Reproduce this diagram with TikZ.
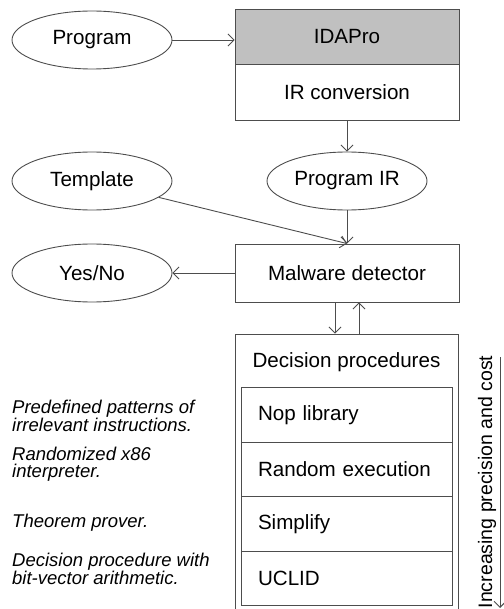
\documentclass[tikz,border=0pt]{standalone}
\usepackage{fontspec}
\setmainfont{Liberation Sans}
\usetikzlibrary{shapes.geometric, arrows.meta, positioning}
\usepackage{xcolor}
\definecolor{lineGray}{HTML}{4D4D4D}
\definecolor{headGray}{HTML}{C0C0C0}
\tikzset{
    BoxText/.style={font=\fontsize{20.6}{24}\selectfont},
    NoteText/.style={font=\fontsize{18.5}{17.5}\selectfont\itshape, align=left, anchor=west, inner sep=0pt},
    StageBox/.style={draw=lineGray, line width=0.9pt, rectangle, minimum width=224pt, minimum height=56pt, BoxText},
    DataEllipse/.style={draw=lineGray, line width=0.9pt, ellipse, minimum width=160pt, minimum height=58pt, inner sep=0pt, BoxText},
    ProcRow/.style={draw=lineGray, line width=0.9pt, rectangle, minimum width=211pt, minimum height=54.5pt, text width=177pt, inner xsep=17pt, align=left, BoxText},
    FlowArrow/.style={-{Straight Barb[length=6pt, width=12pt]}, draw=lineGray, line width=0.9pt}
}

\begin{document}
\begin{tikzpicture}[x=1pt, y=-1pt]
    \useasboundingbox (0,0) rectangle (503,609);

    % inputs and front end
    \node[DataEllipse] (prog) at (92,40) {Program};
    \node[StageBox, fill=headGray, minimum height=55pt] (ida) at (347,36.5) {IDAPro};
    \node[StageBox] (irc) at (347,92) {IR conversion};
    \node[DataEllipse] (progir) at (347,181) {Program IR};
    \node[DataEllipse] (tmpl) at (92,181) {Template};
    \node[StageBox, minimum height=58pt] (mal) at (347,273) {Malware detector};
    \node[DataEllipse] (yesno) at (92,273) {Yes/No};

    \draw[FlowArrow] (prog.east) -- (prog.east -| ida.west);
    \draw[FlowArrow] (irc.south) -- (progir.north);
    \draw[FlowArrow] (tmpl) -- (mal.north);
    \draw[FlowArrow] (progir.south) -- (mal.north);
    \draw[FlowArrow] (mal.west) -- (yesno.east);

    % decision procedures
    \node[draw=lineGray, line width=0.9pt, minimum width=223pt, minimum height=280pt] (dp) at (346.5,474) {};
    \node[BoxText] (dptitle) at (346.5,362) {Decision procedures};
    \node[ProcRow] (nop) at (346.5,415) {Nop library};
    \node[ProcRow] (rand) at (346.5,469.5) {Random execution};
    \node[ProcRow] (simp) at (346.5,524) {Simplify};
    \node[ProcRow] (uclid) at (346.5,578.5) {UCLID};

    \draw[FlowArrow] ([xshift=-12pt]mal.south) -- ([xshift=-11.5pt]dp.north);
    \draw[FlowArrow] ([xshift=12.5pt]dp.north) -- ([xshift=12pt]mal.south);

    % notes on the left
    \node[NoteText] (noteNop) at (12,416) {Predefined patterns of\\irrelevant instructions.};
    \node[NoteText] (noteRand) at (12,464) {Randomized x86\\interpreter.};
    \node[NoteText] (noteSimp) at (12,523) {Theorem prover.};
    \node[NoteText] (noteUclid) at (12,569) {Decision procedure with\\bit-vector arithmetic.};

    % precision scale
    \coordinate (costTop) at (500,357);
    \coordinate (costEnd) at (500,608);
    \draw[FlowArrow] (costTop) -- (costEnd);
    \node[font=\fontsize{19.5}{22}\selectfont, rotate=90] (costLbl) at (487,482) {Increasing precision and cost};
\end{tikzpicture}
\end{document}
